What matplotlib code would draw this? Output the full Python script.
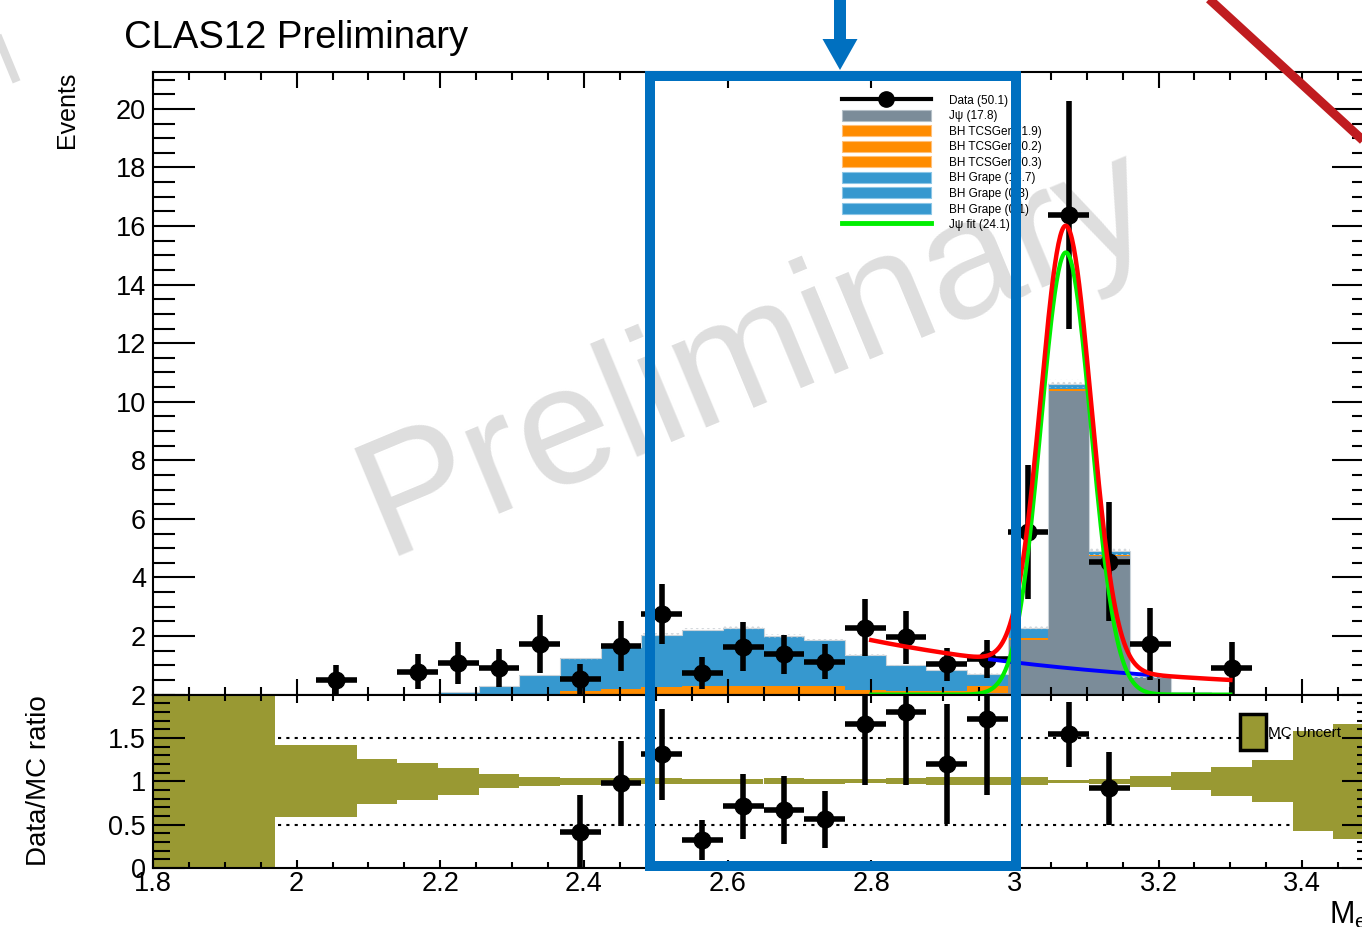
import numpy as np
import matplotlib
matplotlib.use("Agg")
import matplotlib.pyplot as plt
import matplotlib.transforms as mtransforms
from matplotlib.lines import Line2D
from matplotlib.patches import Patch, Rectangle, FancyArrow
from matplotlib.ticker import MultipleLocator, FixedLocator, FormatStrFormatter

plt.rcParams['font.family'] = ['Liberation Sans', 'DejaVu Sans']
plt.rcParams['mathtext.fontset'] = 'custom'
plt.rcParams['mathtext.rm'] = 'Liberation Sans'
plt.rcParams['mathtext.it'] = 'Liberation Sans:italic'

# binning: 30 bins between 1.8 and 3.5 GeV
edges = np.linspace(1.8, 3.5, 31)

# stacked MC (per bin)
mc_jpsi = [0, 0, 0, 0, 0, 0, 0, 0, 0, 0, 0, 0, 0, 0, 0, 0, 0, 0, 0, 0,
           0.04, 1.85, 10.35, 4.72, 0.55, 0.08, 0, 0, 0, 0]
mc_tcsgen = [0, 0, 0, 0, 0, 0, 0, 0, 0, 0.03, 0.12, 0.20, 0.25, 0.30, 0.30, 0.28, 0.28, 0.16, 0.12, 0.12,
             0.25, 0.08, 0.07, 0.05, 0.02, 0, 0, 0, 0, 0]
mc_grape = [0, 0, 0, 0, 0, 0, 0, 0.10, 0.29, 0.64, 1.12, 1.44, 1.78, 1.91, 1.98, 1.73, 1.57, 1.19, 0.89, 0.71,
            0.42, 0.35, 0.20, 0.13, 0.05, 0, 0, 0, 0, 0]

# relative MC uncertainty (half width of the ratio band)
mc_unc = [1.5, 1.5, 1.5, 0.415, 0.415, 0.26, 0.215, 0.155, 0.08, 0.055, 0.038, 0.035, 0.035, 0.03, 0.032,
          0.035, 0.03, 0.025, 0.035, 0.045, 0.045, 0.045, 0.015, 0.03, 0.065, 0.105, 0.17, 0.24, 0.575, 0.665]

# data
data_bins = [4, 6, 7, 8, 9, 10, 11, 12, 13, 14, 15, 16, 17, 18, 19, 20, 21, 22, 23, 24, 26]
data_val = [0.50, 0.78, 1.08, 0.92, 1.73, 0.52, 1.66, 2.74, 0.73, 1.64, 1.37, 1.12, 2.29, 1.95, 1.03, 1.20,
            5.55, 16.37, 4.53, 1.73, 0.90]
data_err = [0.50, 0.60, 0.72, 0.65, 1.00, 0.54, 0.84, 1.02, 0.55, 0.85, 0.68, 0.60, 0.97, 0.89, 0.57, 0.65,
            2.30, 3.90, 2.03, 1.22, 0.88]

# data / MC ratio
ratio_bins = [10, 11, 12, 13, 14, 15, 16, 17, 18, 19, 20, 22, 23]
ratio_val = [0.42, 0.98, 1.31, 0.32, 0.71, 0.67, 0.56, 1.66, 1.80, 1.20, 1.72, 1.54, 0.92]
ratio_err = [0.42, 0.49, 0.52, 0.23, 0.37, 0.39, 0.33, 0.70, 0.84, 0.69, 0.88, 0.37, 0.42]

# J/psi fit: gaussian + exponential background
fit_mean, fit_sigma, fit_amp = 3.071, 0.035, 15.1
bkg_norm, bkg_slope, bkg_ref = 1.86, 2.63, 2.8
fit_range = (2.8, 3.3)
bkg_draw_range = (2.965, 3.185)

legend_labels = ['Data (50.1)', 'J\u03c8 (17.8)', 'BH TCSGen (1.9)', 'BH TCSGen (0.2)', 'BH TCSGen (0.3)',
                 'BH Grape (13.7)', 'BH Grape (0.3)', 'BH Grape (0.1)', 'J\u03c8 fit (24.1)']

GRAY = '#7b8c99'
ORANGE = '#ff8c00'
BLUE = '#3698cf'
OLIVE = '#999933'
MARK = '#0070c0'

W, H = 1362, 927
fig = plt.figure(figsize=(W / 100, H / 100), dpi=100)
# pixel coordinates, origin top-left (used for layout / annotations only)
px = mtransforms.Affine2D().scale(1 / W, -1 / H).translate(0, 1) + fig.transFigure

ax = fig.add_axes([153 / W, 1 - 694.6 / H, 1221 / W, 622.6 / H])
axr = fig.add_axes([153 / W, 1 - 868 / H, 1221 / W, 173.4 / H])

centers = 0.5 * (edges[1:] + edges[:-1])
bw = edges[1] - edges[0]
jpsi = np.array(mc_jpsi)
tcs = np.array(mc_tcsgen)
grape = np.array(mc_grape)
unc = np.array(mc_unc)

# --- upper panel: stacked MC
ax.stairs(jpsi, edges, fill=True, color=GRAY, zorder=1)
ax.stairs(jpsi + tcs, edges, baseline=jpsi, fill=True, color=ORANGE, zorder=1)
ax.stairs(jpsi + tcs + grape, edges, baseline=jpsi + tcs, fill=True, color=BLUE, zorder=1)
ax.stairs(jpsi + tcs + grape, edges, color='#c9d3da', lw=0.8, zorder=1.1)
total = jpsi + tcs + grape
has = total > 0
plt.rcParams['hatch.linewidth'] = 1.2
ax.bar(centers[has], 2 * total[has] * np.minimum(unc[has], 0.5), bottom=total[has] * (1 - np.minimum(unc[has], 0.5)),
       width=bw, fill=False, hatch='...', edgecolor='#d4d8dc', linewidth=0, zorder=1.2)

ax.text(385, 556, 'Preliminary', transform=px, rotation=22.6, rotation_mode='anchor', ha='left',
        va='baseline', fontsize=121, color='#dedede', zorder=1.5)

ax.errorbar(centers[data_bins], data_val, xerr=bw / 2, yerr=data_err, fmt='o', color='k', ms=12,
            elinewidth=4, capsize=0, zorder=5)

xf = np.linspace(fit_range[0], fit_range[1], 400)
gauss = fit_amp * np.exp(-0.5 * ((xf - fit_mean) / fit_sigma) ** 2)
bkg = bkg_norm * np.exp(-bkg_slope * (xf - bkg_ref))
sel = (xf >= bkg_draw_range[0]) & (xf <= bkg_draw_range[1])
ax.plot(xf[sel], bkg[sel], color='#0000ff', lw=2.8, zorder=6)
ax.plot(xf, gauss, color='#00ee00', lw=3, zorder=6)
ax.plot(xf, gauss + bkg, color='#ff0000', lw=3.2, zorder=7)

ax.set_xlim(1.8, 3.5)
ax.set_ylim(0, 21.26)
ax.xaxis.set_major_locator(MultipleLocator(0.2))
ax.xaxis.set_minor_locator(MultipleLocator(0.05))
ax.yaxis.set_major_locator(FixedLocator(np.arange(2, 21, 2)))
ax.yaxis.set_minor_locator(MultipleLocator(0.5))
ax.tick_params(axis='x', which='major', direction='in', length=11.5, width=1.5, top=True, bottom=True,
               labelbottom=False)
ax.tick_params(axis='x', which='minor', direction='in', length=5.8, width=1.5, top=True, bottom=True)
ax.tick_params(axis='y', which='major', direction='in', length=30, width=1.5, left=True, right=True,
               labelsize=19.5, pad=5)
ax.tick_params(axis='y', which='minor', direction='in', length=16, width=1.5, left=True, right=True)
for s in ax.spines.values():
    s.set_linewidth(1.5)

handles = [Line2D([], [], color='k', lw=3, marker='o', ms=11),
           Patch(fc=GRAY, ec='#b5c0c8', lw=0.8)] + \
          [Patch(fc=ORANGE, ec='#ffc07a', lw=0.8)] * 3 + \
          [Patch(fc=BLUE, ec='#8cc6e6', lw=0.8)] * 3 + \
          [Line2D([], [], color='#00ee00', lw=3.5)]
ax.legend(handles, legend_labels, loc='upper left', bbox_to_anchor=(842, 94), bbox_transform=px,
          frameon=False, fontsize=8.5, handlelength=7.5, handleheight=1.05, labelspacing=0.26,
          handletextpad=1.6, borderpad=0, borderaxespad=0, numpoints=1)

# --- ratio panel
axr.axhline(0.5, color='k', lw=1.5, ls=(0, (1.5, 2.5)), zorder=0.5)
axr.axhline(1.5, color='k', lw=1.5, ls=(0, (1.5, 2.5)), zorder=0.5)
axr.bar(centers, 2 * unc, bottom=1 - unc, width=bw, color=OLIVE, lw=0, zorder=1)
axr.errorbar(centers[ratio_bins], ratio_val, xerr=bw / 2, yerr=ratio_err, fmt='o', color='k', ms=12,
             elinewidth=4, capsize=0, zorder=5)
axr.add_patch(Rectangle((1240, 714), 26, 36, transform=px, fc=OLIVE, ec='k', lw=2.5, clip_on=False,
                        zorder=6))
axr.text(1268, 733, 'MC Uncert', transform=px, fontsize=11, va='center', ha='left', zorder=6)

axr.set_xlim(1.8, 3.5)
axr.set_ylim(0, 2)
axr.xaxis.set_major_locator(MultipleLocator(0.2))
axr.xaxis.set_minor_locator(MultipleLocator(0.05))
axr.xaxis.set_major_formatter(FormatStrFormatter('%g'))
axr.yaxis.set_major_locator(MultipleLocator(0.5))
axr.yaxis.set_minor_locator(MultipleLocator(0.1))
axr.yaxis.set_major_formatter(FormatStrFormatter('%g'))
axr.tick_params(axis='x', which='major', direction='in', length=5.8, width=1.5, top=True, bottom=True,
                labelsize=19.5, pad=2.5)
axr.tick_params(axis='x', which='minor', direction='in', length=4, width=1.5, top=True, bottom=True)
axr.tick_params(axis='y', which='major', direction='in', length=23, width=1.5, left=True, right=True,
                labelsize=19.5, pad=5)
axr.tick_params(axis='y', which='minor', direction='in', length=12, width=1.5, left=True, right=True)
for s in axr.spines.values():
    s.set_linewidth(1.5)

# --- titles and axis labels
fig.text(124, 48, 'CLAS12 Preliminary', transform=px, fontsize=27.5, ha='left', va='baseline')
fig.text(74, 72, 'Events', transform=px, fontsize=18, rotation=90, rotation_mode='anchor',
         ha='right', va='baseline')
fig.text(46, 781, 'Data/MC ratio', transform=px, fontsize=20, rotation=90, rotation_mode='anchor',
         ha='center', va='baseline')
fig.text(1329, 923, 'M$_{\\mathrm{ee}}$ [GeV]', transform=px, fontsize=22, ha='left', va='baseline')

# --- slide annotations
fig.add_artist(Line2D([-4, 15], [32, 78], transform=px, color='#dcdcdc', lw=6))
fig.add_artist(Line2D([1208, 1380], [-2, 156], transform=px, color='#c01c20', lw=6.5,
                      solid_capstyle='butt'))
fig.add_artist(Rectangle((650, 76), 366, 790, transform=px, fill=False, ec=MARK, lw=7.2))
fig.add_artist(FancyArrow(840, -5, 0, 75, width=12, head_width=35, head_length=31,
                          length_includes_head=True, transform=px, color=MARK, lw=0))

fig.savefig('out.png', dpi=100)
